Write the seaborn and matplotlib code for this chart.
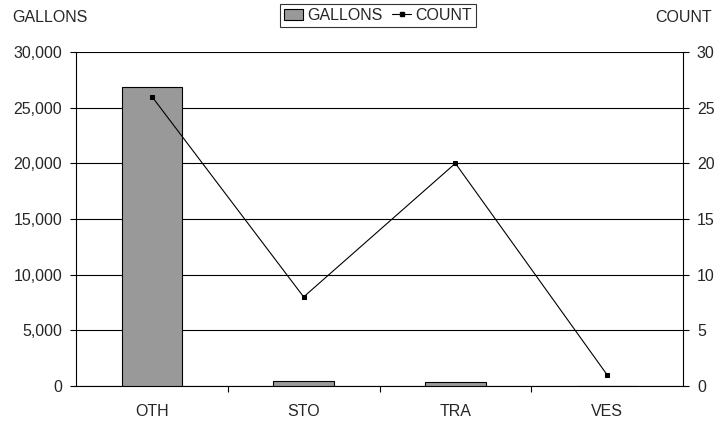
import numpy as np
import pandas as pd
import matplotlib
matplotlib.use("Agg")
import matplotlib.pyplot as plt
import seaborn as sns
from matplotlib.ticker import FuncFormatter, FixedLocator
from matplotlib.patches import Patch
from matplotlib.lines import Line2D

# data
categories = ["OTH", "STO", "TRA", "VES"]
gallons = [26900, 450, 400, 0]
count = [26, 8, 20, 1]

FS = 11.5

sns.set_style("white")
plt.rcParams["font.family"] = ["Liberation Sans", "DejaVu Sans"]

fig = plt.figure(figsize=(7.26, 4.23), dpi=100)
ax = fig.add_axes([0.1047, 0.0875, 0.8361, 0.7896])

df = pd.DataFrame({"cat": categories, "gallons": gallons, "count": count})
sns.barplot(data=df, x="cat", y="gallons", color="#999999", edgecolor="black",
            linewidth=0.8, width=0.4, saturation=1, ax=ax, zorder=3)
ax.set_ylim(0, 30000)
ax.set_xlim(-0.5, len(categories) - 0.5)
ax.set_yticks(np.arange(0, 30001, 5000))
ax.yaxis.set_major_formatter(FuncFormatter(lambda v, p: f"{int(v):,}"))
ax.grid(axis="y", color="black", linewidth=0.8)
ax.set_axisbelow(True)
ax.set_xlabel("")
ax.set_ylabel("")

# tick marks between categories, labels under the centres
ax.xaxis.set_minor_locator(FixedLocator(np.arange(0.5, len(categories) - 1, 1)))
ax.tick_params(axis="x", which="major", length=0, pad=13, labelsize=FS)
ax.tick_params(axis="x", which="minor", length=4, width=0.8, color="black", direction="out", bottom=True)
ax.tick_params(axis="y", length=4, width=0.8, color="black", direction="out", left=True,
               labelsize=FS, pad=6)

for s in ["left", "bottom"]:
    ax.spines[s].set_color("black")
    ax.spines[s].set_linewidth(0.8)
ax.spines["top"].set_visible(False)
ax.spines["right"].set_visible(False)

ax2 = ax.twinx()
sns.lineplot(x=np.arange(len(categories)), y=count, ax=ax2, color="black",
             linewidth=0.8, marker="s", markersize=3, markeredgecolor="black")
ax2.set_ylim(0, 30)
ax2.set_yticks(np.arange(0, 31, 5))
ax2.tick_params(axis="y", length=4, width=0.8, color="black", direction="out", right=True,
                labelsize=FS, pad=6)
ax2.spines["right"].set_visible(True)
ax2.spines["right"].set_color("black")
ax2.spines["right"].set_linewidth(0.8)
for s in ["top", "left", "bottom"]:
    ax2.spines[s].set_visible(False)
ax2.set_ylabel("")

fig.text(12 / 726, 0.958, "GALLONS", fontsize=FS, ha="left", va="center")
fig.text(712 / 726, 0.958, "COUNT", fontsize=FS, ha="right", va="center")

handles = [Patch(facecolor="#999999", edgecolor="black", linewidth=0.8),
           Line2D([0], [0], color="black", linewidth=0.8, marker="s", markersize=2.5)]
leg = fig.legend(handles, ["GALLONS", "COUNT"], loc="center", bbox_to_anchor=(378 / 726, 0.964),
                 ncol=2, frameon=True, fontsize=FS, handlelength=1.2, handletextpad=0.25,
                 columnspacing=0.6, borderpad=0.25, fancybox=False, borderaxespad=0)
leg.get_frame().set_edgecolor("black")
leg.get_frame().set_linewidth(0.8)

fig.savefig("out.png", dpi=100)
